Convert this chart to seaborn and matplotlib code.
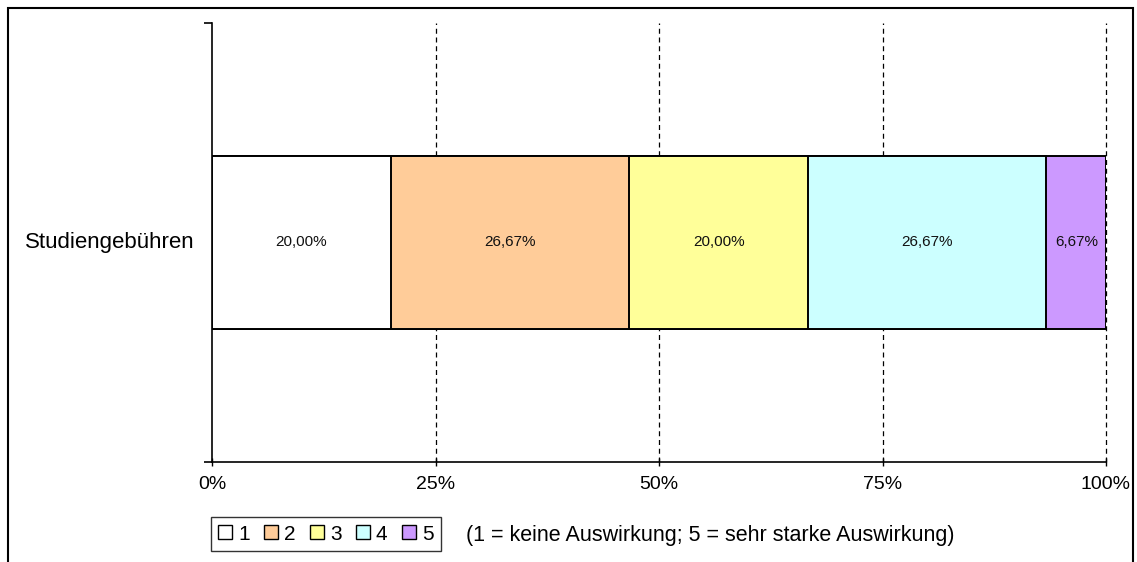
import matplotlib.pyplot as plt
import numpy as np
import pandas as pd
import seaborn as sns
from matplotlib.patches import Rectangle, Patch

# data
category = ["Studiengebühren"]
levels = ["1", "2", "3", "4", "5"]
shares = [20.00, 26.67, 20.00, 26.67, 6.67]
labels = ["20,00%", "26,67%", "20,00%", "26,67%", "6,67%"]
colors = ["#FFFFFF", "#FFCC99", "#FFFF99", "#CCFFFF", "#CC99FF"]
xticks = [0, 25, 50, 75, 100]
xticklabels = ["0%", "25%", "50%", "75%", "100%"]
note = "(1 = keine Auswirkung; 5 = sehr starke Auswirkung)"

sns.set_theme(style="white")
plt.rcParams["font.family"] = ["Liberation Sans", "DejaVu Sans"]
plt.rcParams["text.color"] = "black"

fig = plt.figure(figsize=(11.37, 5.62), dpi=100)
ax = fig.add_axes([212 / 1137, 1 - 462 / 562, (1106 - 212) / 1137, (462 - 23) / 562])

starts = np.concatenate([[0], np.cumsum(shares)[:-1]])
ends = np.cumsum(shares)
ends[-1] = 100.0

# stacked bar: draw cumulative totals from longest to shortest
for i in reversed(range(len(levels))):
    df = pd.DataFrame({"cat": category, "val": [ends[i]]})
    sns.barplot(data=df, x="val", y="cat", color=colors[i], saturation=1,
                width=0.396, edgecolor="black", linewidth=1.4, ax=ax, zorder=3)

for s, v, lab in zip(starts, shares, labels):
    ax.text(s + v / 2, 0, lab, ha="center", va="center", fontsize=11,
            color="#111111", zorder=4)

ax.set_xlim(0, 100)
ax.set_ylim(0.5, -0.5)
ax.set_xticks(xticks)
ax.set_xticklabels(xticklabels, fontsize=14)
for x in xticks[1:]:
    ax.axvline(x, color="black", linestyle=(0, (4, 3)), linewidth=0.9,
               zorder=1, clip_on=False)

ax.set_yticks([-0.5, 0.5])
ax.set_yticklabels([])
ax.text(-2.0, 0, category[0], ha="right", va="center", fontsize=16)
ax.set_xlabel("")
ax.set_ylabel("")
ax.grid(False)

for side in ["top", "right"]:
    ax.spines[side].set_visible(False)
for side in ["left", "bottom"]:
    ax.spines[side].set_color("black")
    ax.spines[side].set_linewidth(1.2)
ax.tick_params(axis="y", left=True, length=6, width=1.2, color="black", direction="out")
ax.tick_params(axis="x", bottom=True, length=6, width=1.0, color="black",
               direction="inout", pad=7, labelcolor="black")
ax.spines["left"].set_bounds(-0.5, 0.5)

handles = [Patch(facecolor=c, edgecolor="black", linewidth=1) for c in colors]
leg = fig.legend(handles, levels, loc="center left",
                 bbox_to_anchor=(211 / 1137, 1 - 534 / 562), ncol=5,
                 frameon=True, fancybox=False, fontsize=15,
                 handlelength=0.65, handleheight=0.65, handletextpad=0.3,
                 columnspacing=0.7, borderpad=0.35, borderaxespad=0)
leg.get_frame().set_edgecolor("black")
leg.get_frame().set_linewidth(1.0)

fig.text(466 / 1137, 1 - 535 / 562, note, ha="left", va="center", fontsize=15.5)

fig.patches.append(Rectangle((8 / 1137, -0.05), (1133 - 8) / 1137, 1.05 - 8 / 562,
                             transform=fig.transFigure, fill=False,
                             edgecolor="black", linewidth=1.5))

fig.savefig("out.png", dpi=100)
